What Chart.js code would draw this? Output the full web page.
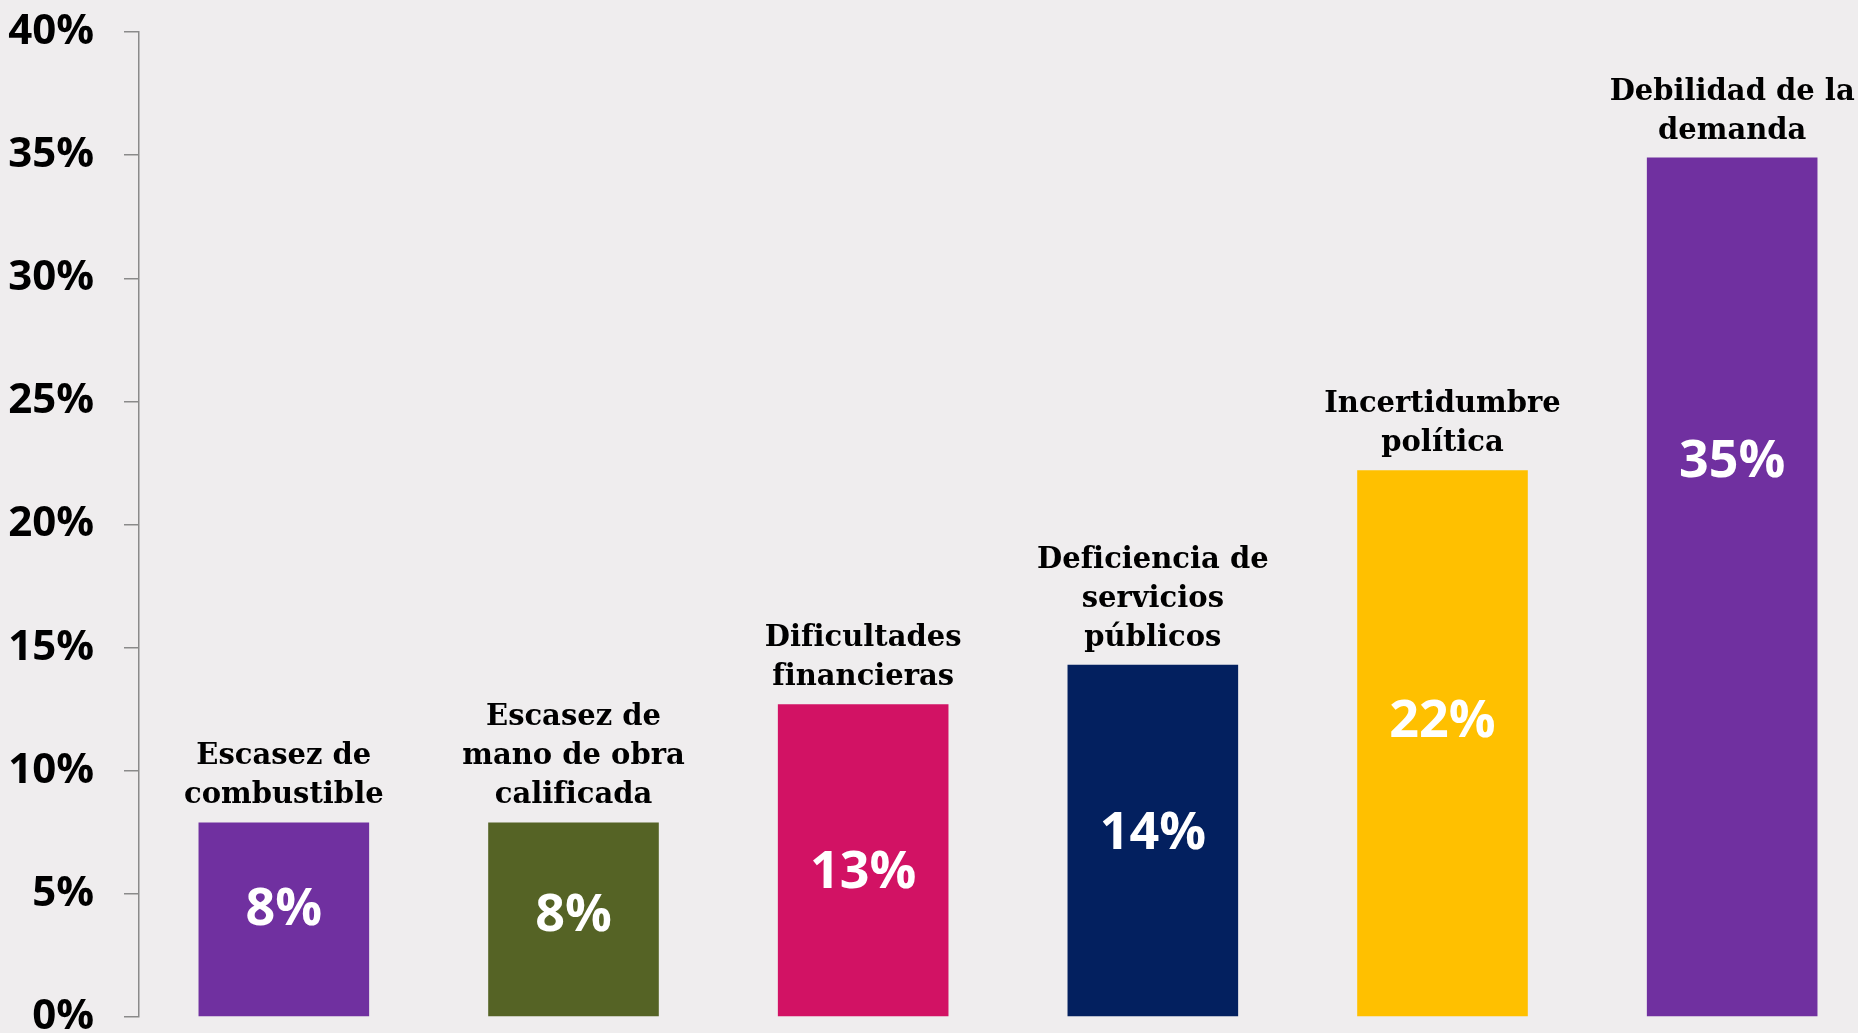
<!DOCTYPE html>
<html lang="es">
<head>
<meta charset="utf-8">
<title>Principales obstáculos</title>
<script src="https://cdn.jsdelivr.net/npm/chart.js@4.4.1/dist/chart.umd.min.js"></script>
<style>
    html, body {
        margin: 0;
        padding: 0;
        background: #efedee;
        overflow: hidden;
    }
    #grafica {
        display: block;
    }
</style>
</head>
<body>
<canvas id="grafica" width="1877" height="1033"></canvas>
<script>
// Datos de la gráfica
var categorias = [
    ["Escasez de", "combustible"],
    ["Escasez de", "mano de obra", "calificada"],
    ["Dificultades", "financieras"],
    ["Deficiencia de", "servicios", "públicos"],
    ["Incertidumbre", "política"],
    ["Debilidad de la", "demanda"]
];
var valores = [7.9, 7.9, 12.7, 14.3, 22.2, 34.9];
var colores = ["#7030a0", "#556325", "#d21264", "#03205f", "#ffc000", "#7030a0"];
var ticksY = [0, 5, 10, 15, 20, 25, 30, 35, 40];

// Altura relativa (dentro de la barra) donde va el porcentaje
var alturaEtiqueta = [0.55, 0.52, 0.46, 0.52, 0.54, 0.645];

// Dibuja el nombre encima de cada barra y el porcentaje dentro
var etiquetasBarras = {
    id: 'etiquetasBarras',
    afterDatasetsDraw: function(chart) {
        var ctx = chart.ctx;
        var meta = chart.getDatasetMeta(0);
        var base = chart.scales.y.getPixelForValue(0);

        ctx.save();
        meta.data.forEach(function(barra, i) {
            // Nombre de la categoría
            var lineas = categorias[i];
            ctx.fillStyle = "#000000";
            ctx.font = "bold 29px 'DejaVu Serif', Georgia, serif";
            ctx.textAlign = "center";
            ctx.textBaseline = "alphabetic";
            for (var j = 0; j < lineas.length; j++) {
                var y = barra.y - 19 - (lineas.length - 1 - j) * 39;
                ctx.fillText(lineas[j], barra.x, y);
            }

            // Porcentaje
            ctx.fillStyle = "#ffffff";
            ctx.font = "bold 52px 'Open Sans', Lato, sans-serif";
            ctx.textBaseline = "middle";
            var yValor = base - (base - barra.y) * alturaEtiqueta[i];
            ctx.fillText(Math.round(valores[i]) + "%", barra.x, yValor);
        });
        ctx.restore();
    }
};

var ctx = document.getElementById("grafica").getContext("2d");
var grafica = new Chart(ctx, {
    type: 'bar',
    data: {
        labels: categorias.map(function(c) { return c.join(" "); }),
        datasets: [{
            data: valores,
            backgroundColor: colores,
            borderWidth: 0,
            categoryPercentage: 1,
            barPercentage: 0.589
        }]
    },
    options: {
        responsive: false,
        animation: false,
        layout: {
            padding: { top: 32, bottom: 16, left: 0, right: 0 }
        },
        plugins: {
            legend: { display: false },
            tooltip: { enabled: false }
        },
        scales: {
            x: {
                display: false
            },
            y: {
                min: 0,
                max: 40,
                afterFit: function(scale) {
                    scale.width = 139;
                    scale.paddingTop = 0;
                    scale.paddingBottom = 0;
                },
                afterBuildTicks: function(scale) {
                    scale.ticks = ticksY.map(function(v) { return { value: v }; });
                },
                border: {
                    display: true,
                    color: "#8a8a8a",
                    width: 1.5
                },
                grid: {
                    drawOnChartArea: false,
                    drawTicks: true,
                    tickLength: 15,
                    color: "#8a8a8a",
                    lineWidth: 1.5
                },
                ticks: {
                    padding: 30,
                    color: "#000000",
                    font: {
                        family: "'Open Sans', Lato, sans-serif",
                        size: 42,
                        weight: "bold",
                        lineHeight: 0.1
                    },
                    callback: function(v) {
                        return v + "%";
                    }
                }
            }
        }
    },
    plugins: [etiquetasBarras]
});
</script>
</body>
</html>
